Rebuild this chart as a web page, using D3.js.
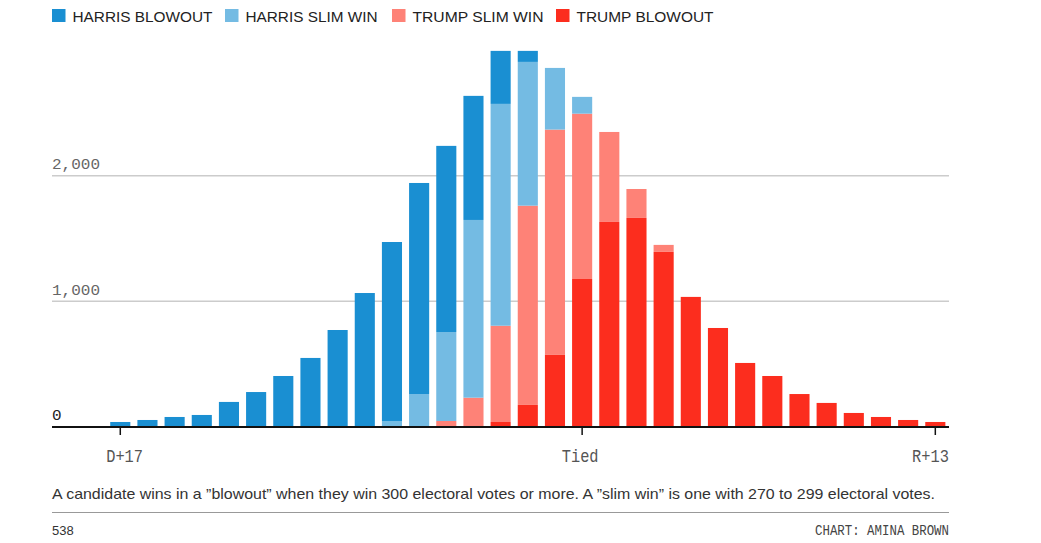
<!DOCTYPE html>
<html><head><meta charset="utf-8">
<script src="https://cdn.jsdelivr.net/npm/d3@7"></script>
<style>
html,body{margin:0;padding:0;background:#fff;}
svg{display:block;}
</style></head>
<body>
<svg id="chart" width="1041" height="543"></svg>
<script>
// ---- data ----
const margins = d3.range(-17, 14); // D+17 ... R+13
const harrisBlowout = [32,48,72,88,192,271,399,543,766,1061,1428,1684,1485,990,423,88,0,0,0,0,0,0,0,0,0,0,0,0,0,0,0];
const harrisSlim    = [0,0,0,0,0,0,0,0,0,0,40,255,710,1418,1770,1147,492,134,0,0,0,0,0,0,0,0,0,0,0,0,0];
const trumpSlim     = [0,0,0,0,0,0,0,0,0,0,0,0,40,226,768,1590,1798,1319,718,231,56,0,0,0,0,0,0,0,0,0,0];
const trumpBlowout  = [0,0,0,0,0,0,0,0,0,0,0,0,0,0,32,168,567,1173,1628,1660,1389,1030,782,503,399,255,184,104,72,48,32];
const seriesKeys = ["trumpBlowout","trumpSlim","harrisSlim","harrisBlowout"];
const legendLabels = ["HARRIS BLOWOUT","HARRIS SLIM WIN","TRUMP SLIM WIN","TRUMP BLOWOUT"];
const yTicks = [0,1000,2000];
const xTickLabels = {"-17":"D+17","0":"Tied","13":"R+13"};
const note = "A candidate wins in a \u201dblowout\u201d when they win 300 electoral votes or more. A \u201dslim win\u201d is one with 270 to 299 electoral votes.";
const source = "538";
const credit = "CHART: AMINA BROWN";

const colors = {harrisBlowout:"#1a8fd2", harrisSlim:"#74bbe3", trumpSlim:"#fe8277", trumpBlowout:"#fc2d1e"};

const rows = margins.map((m,i)=>({m:String(m), trumpBlowout:trumpBlowout[i], trumpSlim:trumpSlim[i], harrisSlim:harrisSlim[i], harrisBlowout:harrisBlowout[i]}));

const svg = d3.select("#chart");
const left = 52, right = 949;

const x = d3.scaleBand().domain(margins.map(String)).range([106.7, 948.9]).paddingInner(0.26).paddingOuter(0.13);
const y = d3.scaleLinear().domain([0,3000]).range([426, 50]);

// gridlines + y labels
const grid = svg.append("g");
yTicks.filter(t=>t>0).forEach(t=>{
  grid.append("line").attr("x1",left).attr("x2",right).attr("y1",y(t)+0.5).attr("y2",y(t)+0.5)
    .attr("stroke","#cccccc").attr("stroke-width",1.5);
});
yTicks.forEach(t=>{
  grid.append("text").attr("x",left).attr("y",y(t)-6)
    .attr("font-family","'Liberation Mono','DejaVu Sans Mono',monospace").attr("font-size",15.5)
    .attr("fill", t===0 ? "#222" : "#666")
    .attr("textLength", d3.format(",")(t).length*9.6).attr("lengthAdjust","spacingAndGlyphs")
    .text(d3.format(",")(t));
});

// stacked bars
const stack = d3.stack().keys(seriesKeys)(rows);
svg.append("g").selectAll("g").data(stack).join("g")
  .attr("fill", d=>colors[d.key])
  .selectAll("rect").data(d=>d).join("rect")
  .attr("x", d=>x(d.data.m))
  .attr("width", x.bandwidth())
  .attr("y", d=>y(d[1]))
  .attr("height", d=>Math.max(0, y(d[0])-y(d[1])));

// axis line
svg.append("line").attr("x1",left).attr("x2",right).attr("y1",427).attr("y2",427)
  .attr("stroke","#111").attr("stroke-width",2);

// x ticks + labels
Object.keys(xTickLabels).forEach(k=>{
  const cx = x(k)+x.bandwidth()/2;
  svg.append("line").attr("x1",cx).attr("x2",cx).attr("y1",428).attr("y2",435)
    .attr("stroke","#111").attr("stroke-width",1.5);
  const lbl = xTickLabels[k];
  let anchor = "middle", tx = cx - 2;
  if (k==="-17"){ anchor="start"; tx = x.range()[0]-0.5; }
  if (k==="13"){ anchor="end"; tx = x.range()[1]; }
  svg.append("text").attr("x",tx).attr("y",461.5).attr("text-anchor",anchor)
    .attr("font-family","'Liberation Mono','DejaVu Sans Mono',monospace").attr("font-size",19)
    .attr("fill","#555")
    .attr("textLength", lbl.length*9.2).attr("lengthAdjust","spacingAndGlyphs")
    .text(lbl);
});

// legend
const legendX = [52,225,392,556];
const legendTextW = [140,132,131,137];
const legendKeys = ["harrisBlowout","harrisSlim","trumpSlim","trumpBlowout"];
legendKeys.forEach((k,i)=>{
  svg.append("rect").attr("x",legendX[i]).attr("y",9).attr("width",13.5).attr("height",13).attr("fill",colors[k]);
  svg.append("text").attr("x",legendX[i]+20.5).attr("y",21.5)
    .attr("font-family","'Liberation Sans',Arial,sans-serif").attr("font-size",15)
    .attr("fill","#222")
    .attr("textLength",legendTextW[i]).attr("lengthAdjust","spacingAndGlyphs")
    .text(legendLabels[i]);
});

// note
svg.append("text").attr("x",52).attr("y",499)
  .attr("font-family","'Liberation Sans Narrow','Liberation Sans',Arial,sans-serif").attr("font-size",15)
  .attr("fill","#333").attr("textLength",883).attr("lengthAdjust","spacingAndGlyphs")
  .text(note);

svg.append("line").attr("x1",left).attr("x2",right).attr("y1",512.5).attr("y2",512.5)
  .attr("stroke","#999").attr("stroke-width",1);

svg.append("text").attr("x",52).attr("y",535)
  .attr("font-family","'Liberation Sans Narrow','Liberation Sans',Arial,sans-serif").attr("font-size",13)
  .attr("fill","#333").text(source);

svg.append("text").attr("x",right).attr("y",535).attr("text-anchor","end")
  .attr("font-family","'Liberation Mono','DejaVu Sans Mono',monospace").attr("font-size",14)
  .attr("fill","#444").attr("textLength",134).attr("lengthAdjust","spacingAndGlyphs")
  .text(credit);
</script>
</body></html>
